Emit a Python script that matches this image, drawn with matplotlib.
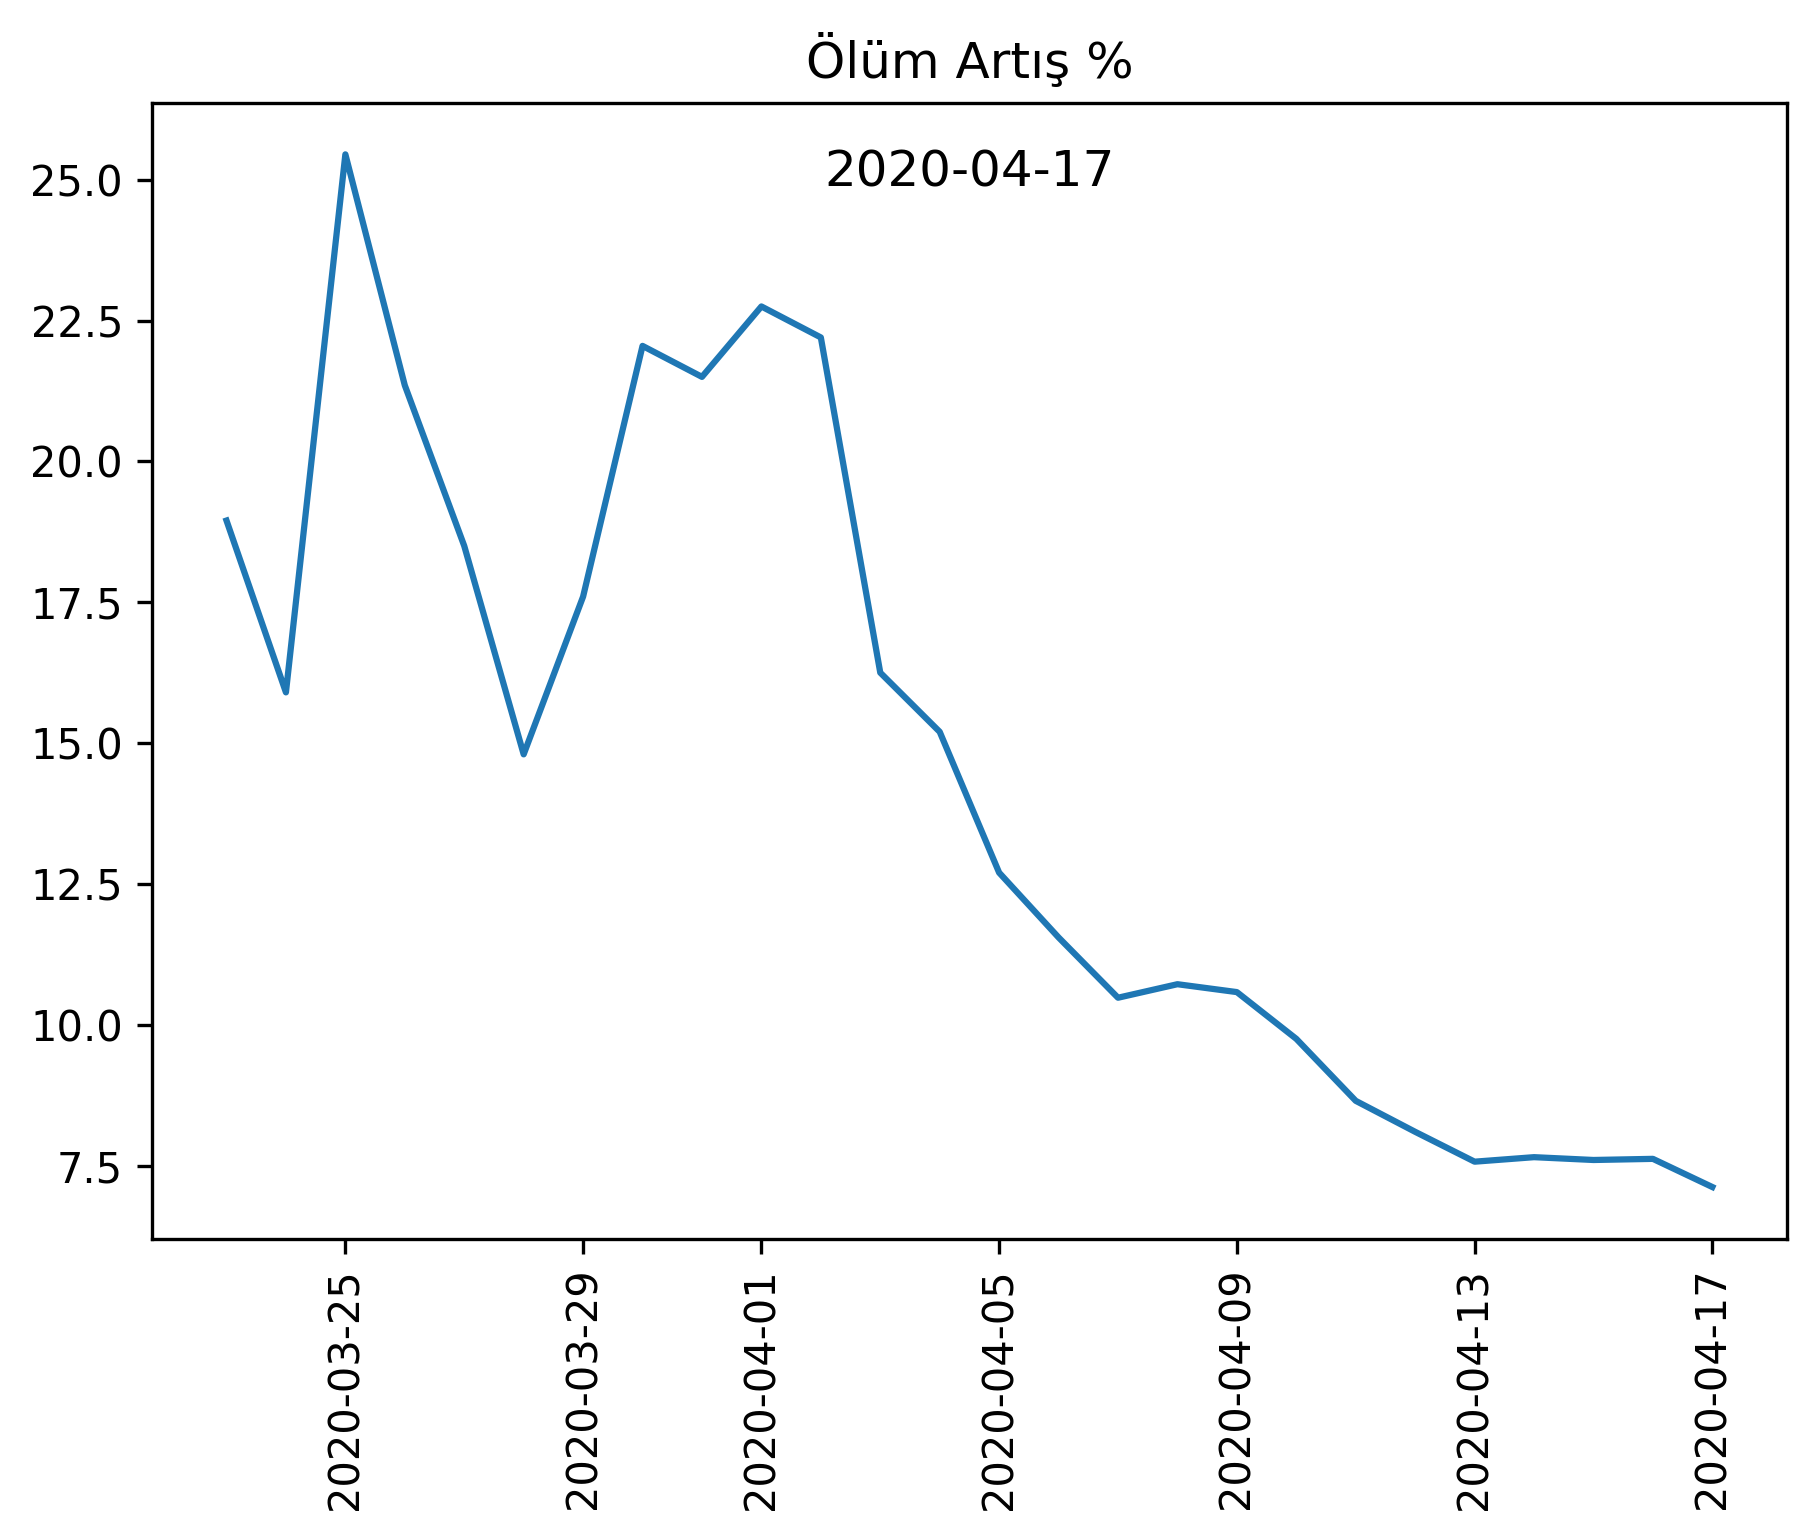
import matplotlib
matplotlib.use("Agg")
import matplotlib.pyplot as plt
import matplotlib.dates as mdates
import pandas as pd

dates = pd.date_range("2020-03-23", "2020-04-17", freq="D")
values = [18.95, 15.9, 25.45, 21.35, 18.5, 14.8, 17.6, 22.05, 21.5, 22.75,
          22.2, 16.25, 15.2, 12.7, 11.55, 10.48, 10.72, 10.58, 9.75, 8.65,
          8.1, 7.57, 7.65, 7.6, 7.62, 7.12]
tick_dates = pd.to_datetime(["2020-03-25", "2020-03-29", "2020-04-01", "2020-04-05",
                             "2020-04-09", "2020-04-13", "2020-04-17"])

fig, ax = plt.subplots(figsize=(6.04, 5.11), dpi=300)
fig.subplots_adjust(left=0.084, right=0.986, top=0.933, bottom=0.192)
ax.plot(dates, values)
ax.set_xticks(tick_dates)
ax.xaxis.set_major_formatter(mdates.DateFormatter("%Y-%m-%d"))
plt.setp(ax.get_xticklabels(), rotation=90)
ax.set_title("Ölüm Artış %")
ax.text(0.5, 0.96, "2020-04-17", transform=ax.transAxes, ha="center", va="top", fontsize=12)
fig.savefig("out.png", dpi=300)
